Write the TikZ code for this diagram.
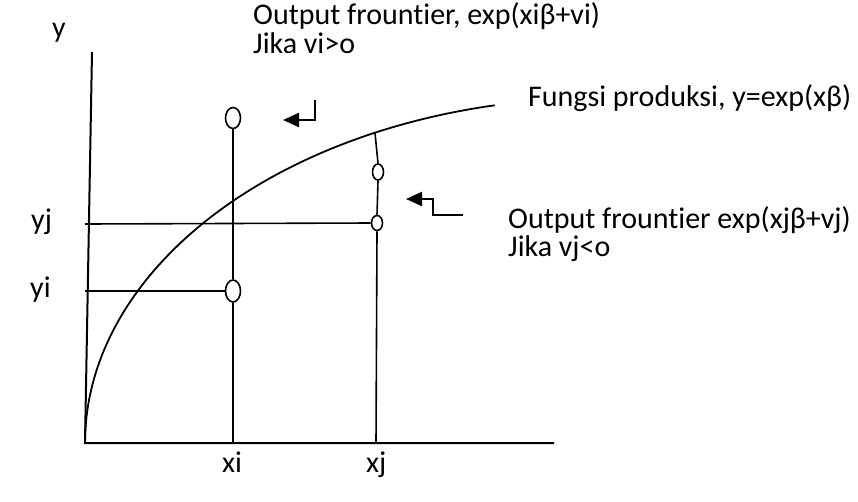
\documentclass[tikz,border=0pt]{standalone}
\usepackage{fontspec}
\setmainfont{Carlito}[Ligatures=CommonOff]
\usetikzlibrary{arrows.meta,shapes.geometric}
\begin{document}
\begin{tikzpicture}[x=1pt,y=-1pt,
  lbl/.style={anchor=base west,inner sep=0pt,font=\fontsize{30}{36}\selectfont},
  axisline/.style={line width=2pt},
  guide/.style={line width=1.6pt},
  dot/.style={ellipse,draw,fill=white,line width=1.6pt,inner sep=0pt},
  hookarrow/.style={line width=2.2pt,-{Triangle[length=16pt,width=14pt]}}]
\useasboundingbox (0,0) rectangle (858,501);
% axes
\coordinate (O) at (85,443);
\coordinate (Ytop) at (92,52);
\coordinate (Xend) at (554,443);
\draw[axisline] (Ytop) -- (O) -- (Xend);
% production function curve (elliptic arc)
\draw[line width=1.8pt] plot[domain=180:258.2,samples=90] ({600+515*cos(\x)},{443+345*sin(\x)});
% feet and tops
\coordinate (xiB) at (233,443);
\coordinate (xjB) at (376,443);
\coordinate (xjT) at (375,133);
\coordinate (yiL) at (85,291);
\coordinate (yjL) at (85,224);
% circles
\node[dot,minimum width=15pt,minimum height=21pt] (ciT) at (233,118) {};
\node[dot,minimum width=15pt,minimum height=22pt] (ciY) at (233,291) {};
\node[dot,minimum width=11pt,minimum height=16pt] (cjU) at (378,172) {};
\node[dot,minimum width=11pt,minimum height=15pt] (cjY) at (377,223) {};
% guide lines
\draw[guide] (xiB) -- (ciY.south);
\draw[guide] (ciY.north) -- (ciT.south);
\draw[guide] (xjB) -- (cjY.south);
\draw[guide] (cjY.north) -- (cjU.south);
\draw[guide] (cjU.north) -- (xjT);
\draw[guide] (yiL) -- (ciY.west);
\draw[guide] (yjL) -- (cjY.west);
% hooked arrows
\coordinate (a1s) at (315,100);
\coordinate (a1e) at (283,120);
\draw[hookarrow] (a1s) |- (a1e);
\coordinate (a2s) at (463,215);
\coordinate (a2m) at (433,199);
\coordinate (a2e) at (406,199);
\draw[hookarrow] (a2s) -| (a2m) -- (a2e);
% labels
\node[lbl] (ly) at (52,37) {y};
\node[lbl] (ti1) at (253,24) {Output frountier, exp(xiβ+vi)};
\node[lbl] (ti2) at (253,53) {Jika vi>o};
\node[lbl] (tf) at (528,106) {Fungsi produksi, y=exp(xβ)};
\node[lbl] (tj1) at (508,228) {Output frountier exp(xjβ+vj)};
\node[lbl] (tj2) at (508,256) {Jika vj<o};
\node[lbl] (lyj) at (31,229) {yj};
\node[lbl] (lyi) at (30,297) {yi};
\node[lbl] (lxi) at (222,472) {xi};
\node[lbl] (lxj) at (366,472) {xj};
\end{tikzpicture}
\end{document}
